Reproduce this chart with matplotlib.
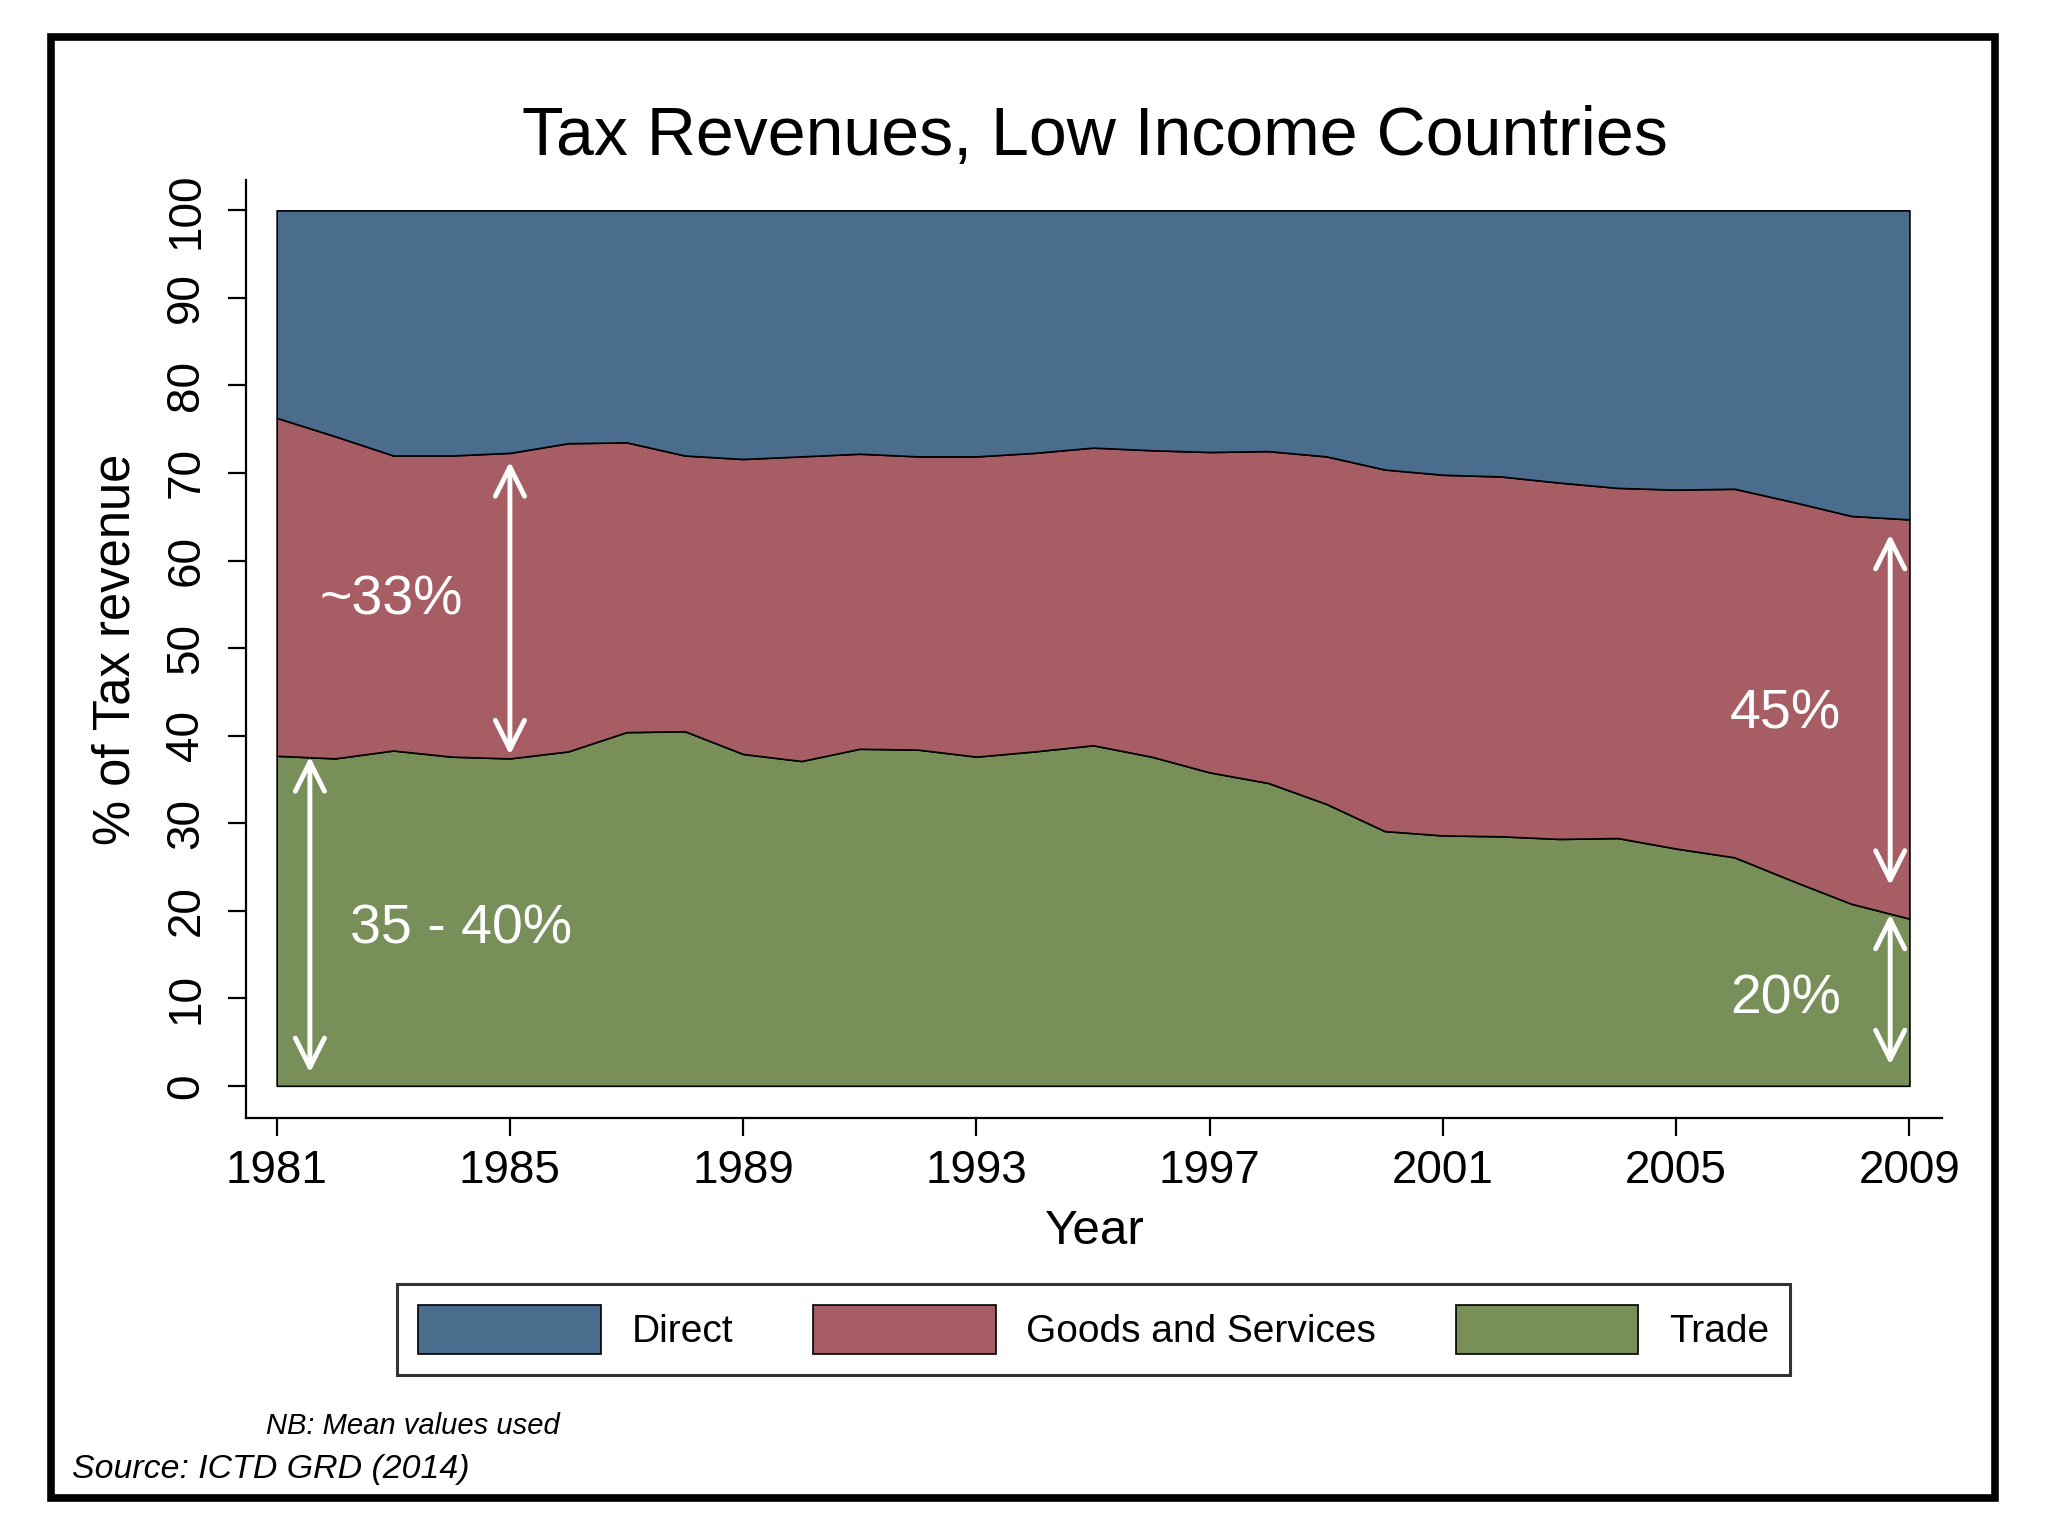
import matplotlib
matplotlib.use("Agg")
import matplotlib.pyplot as plt
from matplotlib.patches import Rectangle

plt.rcParams["font.family"] = ["Liberation Sans", "DejaVu Sans"]

# shares of total tax revenue (%)
YEARS = list(range(1981, 2010))
TRADE = [37.7, 37.4, 38.3, 37.6, 37.4, 38.2, 40.4, 40.5, 37.9, 37.1,
         38.5, 38.4, 37.6, 38.2, 38.9, 37.6, 35.8, 34.6, 32.2, 29.1,
         28.6, 28.5, 28.2, 28.3, 27.1, 26.1, 23.4, 20.8, 19.1]
GOODS = [38.6, 36.8, 33.7, 34.4, 34.9, 35.2, 33.1, 31.5, 33.7, 34.8,
         33.7, 33.5, 34.3, 34.1, 34.0, 35.0, 36.6, 37.9, 39.7, 41.3,
         41.2, 41.1, 40.7, 40.0, 41.0, 42.1, 43.3, 44.3, 45.6]
DIRECT = [23.7, 25.8, 28.0, 28.0, 27.7, 26.6, 26.5, 28.0, 28.4, 28.1,
          27.8, 28.1, 28.1, 27.7, 27.1, 27.4, 27.6, 27.5, 28.1, 29.6,
          30.2, 30.4, 31.1, 31.7, 31.9, 31.8, 33.3, 34.9, 35.3]

LABELS = ["Direct", "Goods and Services", "Trade"]
COLOURS = {"Direct": "#4a6d8d", "Goods and Services": "#a65d63", "Trade": "#788f5a"}

XTICKS = list(range(1981, 2010, 4))
YTICKS = list(range(0, 101, 10))

# (x, y_low, y_high) for the white double arrows
ARROWS = [(1981.57, 1.5, 37.6), (1985, 37.8, 71.3),
          (2008.67, 22.9, 63.0), (2008.67, 2.4, 19.6)]
NOTES = [(1982.97, 55.4, "~33%"), (1984.16, 17.8, "35 - 40%"),
         (2006.87, 42.4, "45%"), (2006.87, 9.9, "20%")]

fig = plt.figure(figsize=(20.48, 15.36), dpi=100)
fig.patch.set_facecolor("white")

# outer frame
fig.patches.append(Rectangle((0.025, 0.025), 0.949, 0.951, transform=fig.transFigure,
                             fill=False, edgecolor="black", linewidth=5.5))

ax = fig.add_axes([0.120, 0.272, 0.828, 0.611])
polys = ax.stackplot(YEARS, TRADE, GOODS, DIRECT,
                     colors=[COLOURS["Trade"], COLOURS["Goods and Services"], COLOURS["Direct"]],
                     edgecolor="black", linewidth=1.2)

ax.set_xlim(1980.47, 2009.55)
ax.set_ylim(-3.7, 103.5)
ax.set_xticks(XTICKS)
ax.set_yticks(YTICKS)
ax.spines["top"].set_visible(False)
ax.spines["right"].set_visible(False)
for s in ("left", "bottom"):
    ax.spines[s].set_linewidth(1.6)
ax.tick_params(axis="both", length=13, width=1.6, labelsize=33, direction="out")
ax.tick_params(axis="x", pad=9)
ax.tick_params(axis="y", pad=14, labelrotation=90)
for lbl in ax.get_yticklabels():
    lbl.set_va("center")

for x, lo, hi in ARROWS:
    ax.annotate("", xy=(x, hi), xytext=(x, lo),
                arrowprops=dict(arrowstyle="<->,head_length=0.7,head_width=0.35",
                                color="white", lw=3.5, mutation_scale=30,
                                shrinkA=0, shrinkB=0))
for x, y, t in NOTES:
    ax.text(x, y, t, color="white", fontsize=40, ha="center", va="center")

fig.text(0.5345, 0.899, "Tax Revenues, Low Income Countries",
         fontsize=49, ha="center", va="baseline")
fig.text(0.5345, 0.198, "Year", fontsize=35.5, ha="center", va="center")
fig.text(0.0564, 0.577, "% of Tax revenue", fontsize=36.5, rotation=90,
         ha="center", va="center")

handles = [polys[2], polys[1], polys[0]]
leg = fig.legend(handles, LABELS, loc="center", bbox_to_anchor=(0.534, 0.1343),
                 ncol=3, fontsize=28, frameon=True, fancybox=False,
                 handlelength=4.7, handleheight=1.55, handletextpad=0.78,
                 columnspacing=2.05, borderpad=0.55)
leg.get_frame().set_edgecolor("black")
leg.get_frame().set_linewidth(2.2)

fig.text(0.130, 0.0667, "NB: Mean values used", fontsize=21, style="italic",
         ha="left", va="baseline")
fig.text(0.0353, 0.0376, "Source: ICTD GRD (2014)", fontsize=24.4, style="italic",
         ha="left", va="baseline")

fig.savefig("out.png", dpi=100)
